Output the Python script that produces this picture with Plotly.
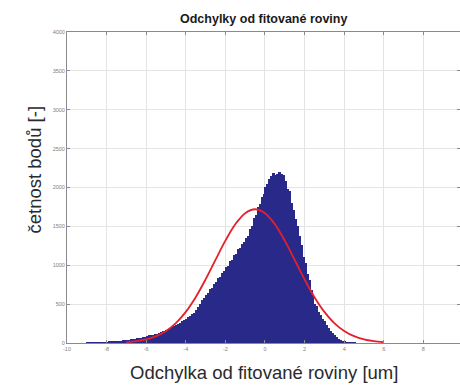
import numpy as np
import plotly.graph_objects as go

# Histogram of deviations from the fitted plane (bin width 0.1 um, first bin starts at -9.0)
bin_start = -9.0
bin_width = 0.1
counts = [
    3, 2, 4, 5, 4,
    6, 7, 6, 8, 9,
    11, 13, 14, 17, 19,
    24, 27, 29, 33, 36,
    40, 44, 47, 52, 55,
    60, 66, 70, 77, 82,
    88, 97, 103, 108, 116,
    122, 131, 138, 150, 158,
    172, 181, 195, 206, 220,
    233, 248, 262, 279, 296,
    312, 330, 351, 368, 390,
    421, 466, 498, 547, 575,
    618, 641, 690, 712, 760,
    781, 831, 849, 903, 921,
    978, 995, 1052, 1068, 1131,
    1142, 1205, 1218, 1279, 1296,
    1356, 1381, 1466, 1509, 1604,
    1650, 1752, 1789, 1884, 1921,
    2010, 2041, 2108, 2150, 2192,
    2160, 2176, 2201, 2168, 2158,
    2083, 1984, 1950, 1803, 1712,
    1590, 1510, 1372, 1262, 1110,
    1025, 890, 805, 681, 610,
    508, 470, 396, 362, 308,
    280, 226, 196, 152, 135,
    101, 82, 50, 35, 19,
    14, 9, 7, 3, 2, 1,
]

# Fitted normal curve, sampled every 0.5 um
fit_x = [-7.0, -6.5, -6.0, -5.5, -5.0, -4.5, -4.0, -3.5, -3.0, -2.5, -2.0, -1.5, -1.0,
         -0.5, 0.0, 0.5, 1.0, 1.5, 2.0, 2.5, 3.0, 3.5, 4.0, 4.5, 5.0, 5.5, 6.0]
fit_y = [11, 24, 47, 88, 155, 256, 400, 589, 818, 1069, 1316, 1527, 1670,
         1720, 1670, 1527, 1316, 1069, 818, 589, 400, 256, 155, 88, 47, 24, 11]

x_ticks = [-10, -8, -6, -4, -2, 0, 2, 4, 6, 8, 10]
y_ticks = [0, 500, 1000, 1500, 2000, 2500, 3000, 3500, 4000]

title_text = "Odchylky od fitované roviny"
x_title = "Odchylka od fitované roviny [um]"
y_title = "četnost bodů [-]"

centers = bin_start + bin_width * (np.arange(len(counts)) + 0.5)

fig = go.Figure()
fig.add_trace(go.Bar(
    x=centers, y=counts, width=bin_width,
    marker=dict(color="#29298A", line=dict(width=0)),
    showlegend=False,
))
fig.add_trace(go.Scatter(
    x=fit_x, y=fit_y, mode="lines", line=dict(color="#E3202B", width=1.8, shape="spline"),
    showlegend=False,
))

axis_common = dict(
    showgrid=True, gridcolor="#E4E4E4", gridwidth=1,
    showline=True, linecolor="#8A8A8A", linewidth=1, mirror="ticks",
    ticks="inside", ticklen=3, tickcolor="#8A8A8A",
    tickfont=dict(family="Liberation Sans", size=5.5, color="#808080"),
    zeroline=False,
)

fig.update_layout(
    width=460, height=388,
    margin=dict(l=67, r=0, t=32, b=45),
    paper_bgcolor="white", plot_bgcolor="white",
    bargap=0,
    xaxis=dict(range=[-10, 9.85], tickvals=x_ticks, ticktext=[str(v) for v in x_ticks], **axis_common),
    yaxis=dict(range=[0, 4000], tickvals=y_ticks, ticktext=[str(v) for v in y_ticks], **axis_common),
    annotations=[
        dict(text="<b>" + title_text + "</b>", xref="paper", yref="paper", x=0.5, y=1.0,
             yshift=13, xanchor="center", yanchor="middle", showarrow=False,
             font=dict(family="Liberation Sans", size=12.5, color="#1A1A1A")),
        dict(text=x_title, xref="paper", yref="paper", x=0.5, y=0.0, yshift=-29,
             xanchor="center", yanchor="middle", showarrow=False,
             font=dict(family="Liberation Sans", size=18.5, color="#2A2A2A")),
        dict(text=y_title, xref="paper", yref="paper", x=0.0, y=0.5, xshift=-33, yshift=18,
             xanchor="center", yanchor="middle", textangle=-90, showarrow=False,
             font=dict(family="Liberation Sans", size=18.5, color="#2A2A2A")),
    ],
)

fig.write_html("out.html")
